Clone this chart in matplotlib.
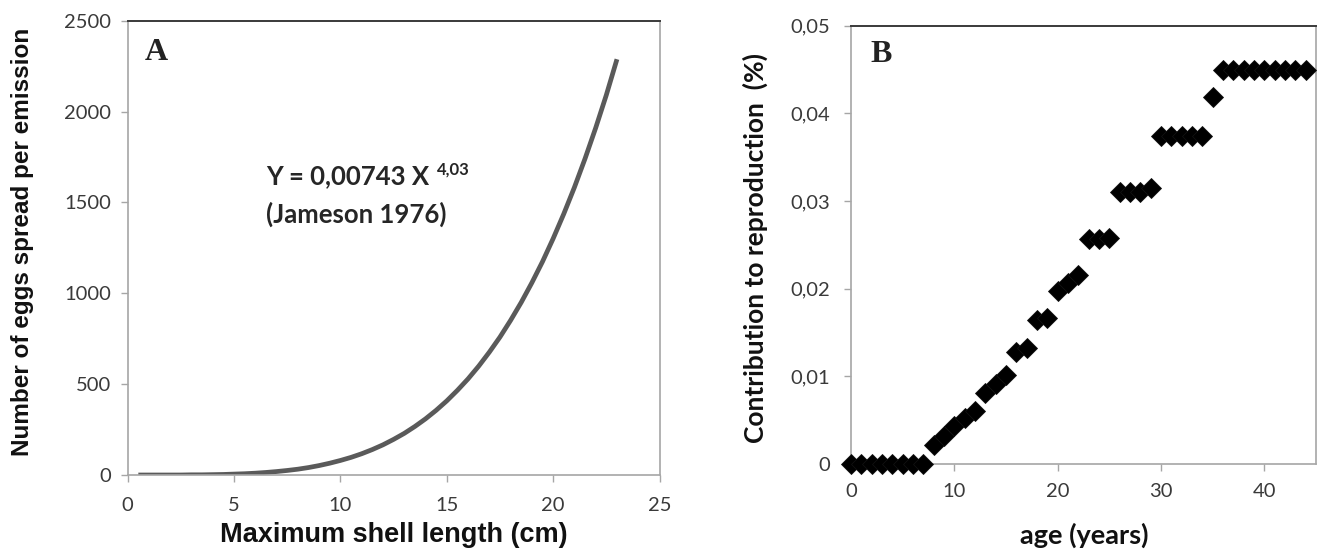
import matplotlib
matplotlib.use("Agg")
import matplotlib.pyplot as plt

# ---------------- data ----------------
# Panel A: eggs per emission vs maximum shell length
shell_length = [0.5, 1, 1.5, 2, 2.5, 3, 3.5, 4, 4.5, 5, 5.5, 6, 6.5, 7, 7.5,
                8, 8.5, 9, 9.5, 10, 10.5, 11, 11.5, 12, 12.5, 13, 13.5, 14,
                14.5, 15, 15.5, 16, 16.5, 17, 17.5, 18, 18.5, 19, 19.5, 20,
                20.5, 21, 21.5, 22, 22.5, 23]
eggs = [0, 0, 0, 0, 0, 1, 1, 2, 3, 5, 7, 10, 14, 19, 25,
        32, 41, 52, 65, 80, 97, 117, 140, 166, 196, 229, 267, 309,
        356, 408, 466, 529, 599, 676, 759, 851, 950, 1058, 1174, 1301,
        1437, 1583, 1741, 1910, 2091, 2288]

a_xticks = [0, 5, 10, 15, 20, 25]
a_yticks = [0, 500, 1000, 1500, 2000, 2500]

# Panel B: contribution to reproduction vs age
age = list(range(45))
contribution = [0, 0, 0, 0, 0, 0, 0, 0,
                0.0022, 0.0032, 0.0043, 0.0052, 0.0061, 0.0081, 0.0091, 0.0102,
                0.0128, 0.0132, 0.0164, 0.0166, 0.0197, 0.0206, 0.0216,
                0.0257, 0.0257, 0.0258, 0.0310, 0.0310, 0.0310, 0.0315,
                0.0374, 0.0374, 0.0374, 0.0374, 0.0374, 0.0418,
                0.0449, 0.0449, 0.0449, 0.0449, 0.0449, 0.0449, 0.0449, 0.0449, 0.0449]

b_xticks = [0, 10, 20, 30, 40]
b_yticks = [0, 0.01, 0.02, 0.03, 0.04, 0.05]
b_yticklabels = ["0", "0,01", "0,02", "0,03", "0,04", "0,05"]

equation_text = "Y = 0,00743 X"
equation_exp = "4,03"
reference_text = "(Jameson 1976)"

# ---------------- figure ----------------
W, H = 1319, 549
fig = plt.figure(figsize=(W / 100, H / 100), dpi=100)
fig.patch.set_facecolor("white")

def px_axes(l, r, b, t):
    return fig.add_axes([l / W, 1 - b / H, (r - l) / W, (b - t) / H])

axA = px_axes(127.7, 659.5, 475, 20.7)
axB = px_axes(851, 1316, 464, 25.5)

TICKFONT = "Lato"
LABEL_COL = "#262626"
TICK_COL = "#3a3a3a"
SPINE_LIGHT = "#a6a6a6"
SPINE_DARK = "#3a3a3a"

def style(ax, xpad, ypad):
    for s in ("left", "bottom", "right"):
        ax.spines[s].set_color(SPINE_LIGHT)
        ax.spines[s].set_linewidth(1.2)
    ax.spines["top"].set_color(SPINE_DARK)
    ax.spines["top"].set_linewidth(1.4)
    ax.tick_params(axis="both", direction="out", length=5, width=1,
                   color=SPINE_LIGHT, labelcolor=TICK_COL, labelsize=14.5)
    ax.tick_params(axis="x", pad=xpad)
    ax.tick_params(axis="y", pad=ypad)
    for lab in ax.get_xticklabels() + ax.get_yticklabels():
        lab.set_fontfamily(TICKFONT)

# ---- Panel A ----
axA.plot(shell_length, eggs, color="#5a5a5a", lw=3.4, solid_capstyle="butt",
         solid_joinstyle="round")
axA.set_xlim(0, 25)
axA.set_ylim(0, 2500)
axA.set_xticks(a_xticks)
axA.set_xticklabels([str(v) for v in a_xticks])
axA.set_yticks(a_yticks)
axA.set_yticklabels([str(v) for v in a_yticks])
style(axA, xpad=11, ypad=7)

axA.set_xlabel("Maximum shell length (cm)", fontsize=19.5, fontweight="bold",
               family="Liberation Sans", color="#111111", va="center")
axA.xaxis.set_label_coords(0.5, -0.132)
axA.set_ylabel("Number of eggs spread per emission", fontsize=17.5,
               fontweight="bold", family="Liberation Sans", color="#111111",
               va="center")
axA.yaxis.set_label_coords(-0.197, 0.513)

axA.text(0.033, 0.913, "A", transform=axA.transAxes, fontsize=23,
         fontweight="bold", family="Liberation Serif", color="#222222",
         va="baseline", ha="left")

t1 = axA.text(6.5, 1643, equation_text, fontsize=18.5, fontweight="bold",
              family="Lato", color=LABEL_COL, va="center", ha="left")
axA.annotate(equation_exp, xy=(1, 1), xycoords=t1, xytext=(5.5, 2),
             textcoords="offset points", fontsize=12, fontweight="bold",
             family="Lato", color=LABEL_COL, va="top", ha="left")
axA.text(6.5, 1436, reference_text, fontsize=18.5, fontweight="bold",
         family="Lato", color=LABEL_COL, va="center", ha="left")

# ---- Panel B ----
axB.plot(age, contribution, linestyle="none", marker="D", markersize=10.2,
         markerfacecolor="black", markeredgecolor="#111111",
         markeredgewidth=0.6, clip_on=False, zorder=3)
axB.set_xlim(0, 45)
axB.set_ylim(0, 0.05)
axB.set_xticks(b_xticks)
axB.set_xticklabels([str(v) for v in b_xticks])
axB.set_yticks(b_yticks)
axB.set_yticklabels(b_yticklabels)
style(axB, xpad=9, ypad=10)

axB.set_xlabel("age (years)", fontsize=19.5, fontweight="bold", family="Lato",
               color="#111111", va="center")
axB.xaxis.set_label_coords(0.501, -0.162)
axB.set_ylabel("Contribution to reproduction  (%)", fontsize=19,
               fontweight="bold", family="Lato", color="#111111", va="center")
axB.yaxis.set_label_coords(-0.206, 0.492)

axB.text(0.041, 0.916, "B", transform=axB.transAxes, fontsize=23,
         fontweight="bold", family="Liberation Serif", color="#222222",
         va="baseline", ha="left")

fig.savefig("out.png", dpi=100, facecolor="white")
